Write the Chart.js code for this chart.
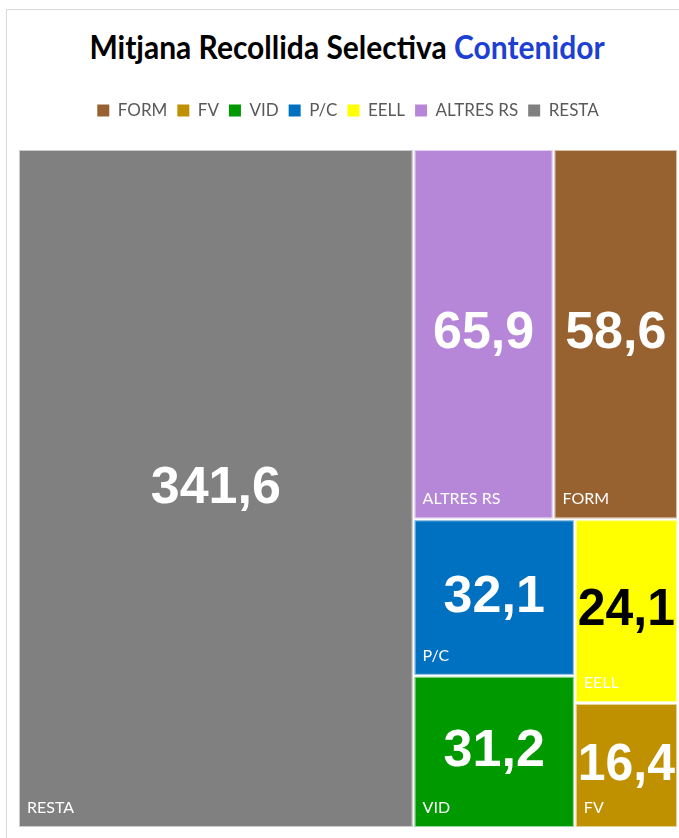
<!DOCTYPE html>
<html>
<head>
<meta charset="utf-8">
<script src="https://cdn.jsdelivr.net/npm/chart.js@4.4.1/dist/chart.umd.min.js"></script>
<style>
html, body { margin: 0; padding: 0; background: #fff; overflow: hidden; }
#frame { position: absolute; left: 6px; top: 9px; width: 720px; height: 880px; border: 1px solid #d9d9d9; }
#title { position: absolute; left: 0; top: 28px; width: 694px; text-align: center; font: bold 30px Lato, sans-serif; color: #000; white-space: nowrap; transform: scaleY(1.1); }
#title span { color: #1e40d2; }
#treemap { position: absolute; left: 0; top: 0; }
</style>
</head>
<body>
<div id="frame"></div>
<div id="title">Mitjana Recollida Selectiva <span>Contenidor</span></div>
<canvas id="treemap" width="679" height="838"></canvas>
<script>
// Categories in legend order
const categories = ['FORM', 'FV', 'VID', 'P/C', 'EELL', 'ALTRES RS', 'RESTA'];
const values = [58.6, 16.4, 31.2, 32.1, 24.1, 65.9, 341.6];
const colors = ['#97622f', '#bf9000', '#009900', '#0070c0', '#ffff00', '#b687d9', '#808080'];
const valueColors = ['#fff', '#fff', '#fff', '#fff', '#000', '#fff', '#fff'];

// How the blocks nest: 'x' splits left/right, 'y' splits top/bottom (sizes come from the values)
const layoutTree = ['x', 'RESTA', ['y', ['x', 'ALTRES RS', 'FORM'], ['x', ['y', 'P/C', 'VID'], ['y', 'EELL', 'FV']]]];

function sumOf(node) {
    if (typeof node === 'string') return values[categories.indexOf(node)];
    return sumOf(node[1]) + sumOf(node[2]);
}

function place(node, x0, y0, x1, y1, out) {
    if (typeof node === 'string') {
        out[node] = { x0: x0, y0: y0, x1: x1, y1: y1 };
        return out;
    }
    const a = sumOf(node[1]);
    const f = a / (a + sumOf(node[2]));
    if (node[0] === 'x') {
        const xm = x0 + (x1 - x0) * f;
        place(node[1], x0, y0, xm, y1, out);
        place(node[2], xm, y0, x1, y1, out);
    } else {
        const ym = y0 + (y1 - y0) * f;
        place(node[1], x0, y0, x1, ym, out);
        place(node[2], x0, ym, x1, y1, out);
    }
    return out;
}

const cells = place(layoutTree, 0, 0, 1, 1, {});

const fmt = v => v.toFixed(1).replace('.', ',');

// Draws each cell as a rectangle through the x/y scales
const treemapCells = {
    id: 'treemapCells',
    beforeDatasetsDraw(chart) {
        const ctx = chart.ctx;
        const xs = chart.scales.x;
        const ys = chart.scales.y;
        chart.data.datasets.forEach((ds, i) => {
            if (!chart.isDatasetVisible(i)) return;
            const c = ds.cell;
            const left = xs.getPixelForValue(c.x0) + 1;
            const right = xs.getPixelForValue(c.x1) - 1;
            const top = ys.getPixelForValue(c.y0) + 1;
            const bottom = ys.getPixelForValue(c.y1) - 1;
            ctx.save();
            ctx.fillStyle = ds.backgroundColor;
            ctx.fillRect(left, top, right - left, bottom - top);
            ctx.strokeStyle = 'rgba(255,255,255,0.6)';
            ctx.lineWidth = 1;
            ctx.strokeRect(left + 0.5, top + 0.5, right - left - 1, bottom - top - 1);

            ctx.textAlign = 'center';
            ctx.textBaseline = 'middle';
            ctx.fillStyle = valueColors[i];
            ctx.font = 'bold 52px "Liberation Sans", Arial, sans-serif';
            ctx.fillText(fmt(ds.data[0].v), (left + right) / 2, (top + bottom) / 2, right - left - 4);

            ctx.textAlign = 'left';
            ctx.fillStyle = '#fff';
            ctx.font = '16px Lato, sans-serif';
            ctx.fillText(ds.label, left + 8, bottom - 19);
            ctx.restore();
        });
    }
};

const ctx = document.getElementById('treemap').getContext('2d');
const treemap = new Chart(ctx, {
    type: 'scatter',
    data: {
        datasets: categories.map((name, i) => {
            const c = cells[name];
            return {
                label: name,
                data: [{ x: (c.x0 + c.x1) / 2, y: (c.y0 + c.y1) / 2, v: values[i] }],
                backgroundColor: colors[i],
                borderColor: colors[i],
                borderWidth: 0,
                pointRadius: 0,
                pointHoverRadius: 0,
                cell: c
            };
        })
    },
    options: {
        responsive: false,
        animation: false,
        layout: { padding: { left: 18, right: 1, top: 92, bottom: 10 } },
        scales: {
            x: {
                type: 'linear', min: 0, max: 1, position: 'top',
                ticks: { display: false }, grid: { display: false, drawTicks: false }, border: { display: false },
                afterFit: s => { s.height = 20; }
            },
            y: { type: 'linear', min: 0, max: 1, reverse: true, display: false }
        },
        plugins: {
            legend: {
                position: 'top',
                labels: {
                    boxWidth: 12,
                    boxHeight: 12,
                    padding: 10,
                    color: '#595959',
                    font: { family: 'Lato', size: 17 }
                }
            },
            tooltip: { enabled: false }
        }
    },
    plugins: [treemapCells]
});
</script>
</body>
</html>
